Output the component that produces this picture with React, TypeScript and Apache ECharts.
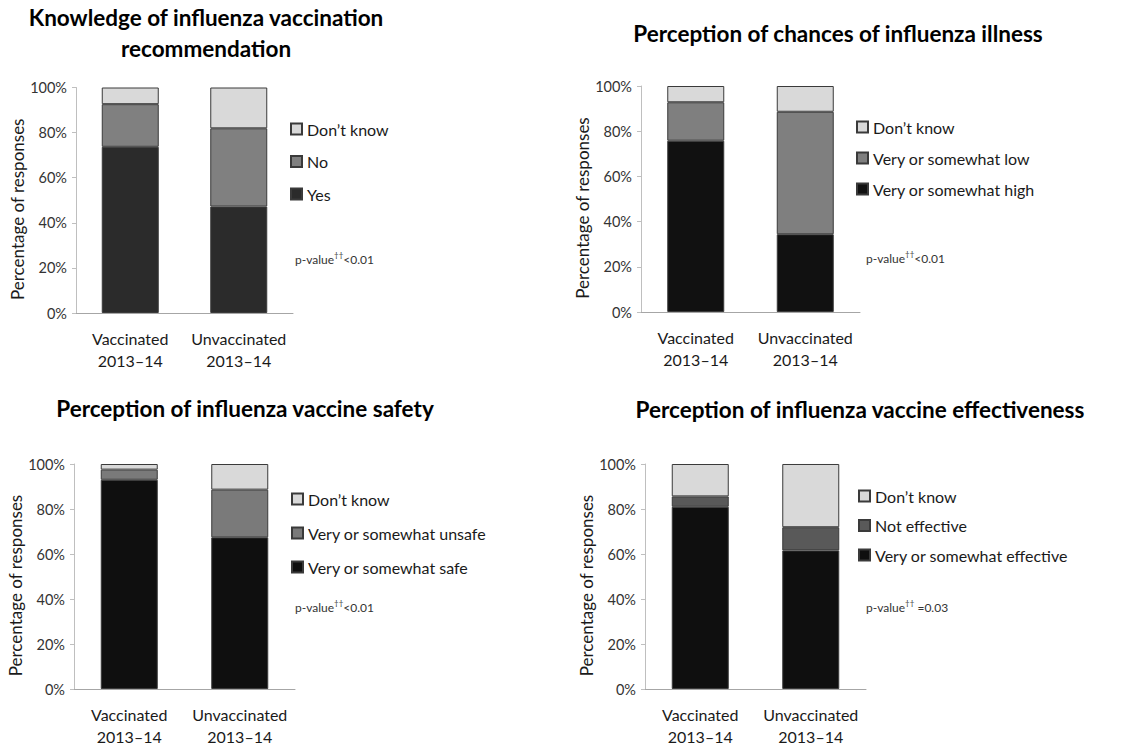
import React, { useEffect, useRef } from "react";
import * as echarts from "echarts";

const categories = ["Vaccinated\n2013–14", "Unvaccinated\n2013–14"];
const yTicks = [0, 20, 40, 60, 80, 100];

// Panel 1: Knowledge of recommendation
const knowYes = [73.7, 47.2];
const knowNo = [18.9, 34.7];
const knowDK = [7.4, 18.1];
// Panel 2: Perception of chances of illness
const illHigh = [75.8, 34.4];
const illLow = [17.0, 54.2];
const illDK = [7.2, 11.4];
// Panel 3: Vaccine safety
const safeSafe = [93.0, 67.4];
const safeUnsafe = [4.5, 21.2];
const safeDK = [2.5, 11.4];
// Panel 4: Vaccine effectiveness
const effEff = [81.0, 61.6];
const effNot = [4.6, 10.3];
const effDK = [14.4, 28.1];

const titles = [
  "Knowledge of influenza vaccination\nrecommendation",
  "Perception of chances of influenza illness",
  "Perception of influenza vaccine safety",
  "Perception of influenza vaccine effectiveness",
];
const pValues = ["<0.01", "<0.01", "<0.01", " =0.03"];

const FONT = "Lato, 'Open Sans', sans-serif";

export default function App() {
  const ref = useRef<HTMLDivElement>(null);
  useEffect(() => {
    if (!ref.current) return;
    const chart = echarts.init(ref.current, null, { renderer: "svg" });

    const grids = [
      { left: 76, top: 87.5, width: 217, height: 225.5 },
      { left: 641, top: 86, width: 219, height: 226 },
      { left: 74, top: 464, width: 221, height: 225 },
      { left: 645, top: 464, width: 221, height: 225 },
    ];

    const panels = [
      {
        series: [
          { name: "Yes", data: knowYes, color: "#2b2b2b" },
          { name: "No", data: knowNo, color: "#808080" },
          { name: "Don’t know", data: knowDK, color: "#d9d9d9" },
        ],
        legend: { left: 290, top: 121, itemGap: 16.5 },
        title: { x: 206, y: 32.5 },
        p: { x: 295, y: 258 },
      },
      {
        series: [
          { name: "Very or somewhat high", data: illHigh, color: "#111111" },
          { name: "Very or somewhat low", data: illLow, color: "#7f7f7f" },
          { name: "Don’t know", data: illDK, color: "#d9d9d9" },
        ],
        legend: { left: 856, top: 119, itemGap: 15 },
        title: { x: 838, y: 33 },
        p: { x: 866, y: 257 },
      },
      {
        series: [
          { name: "Very or somewhat safe", data: safeSafe, color: "#0f0f0f" },
          { name: "Very or somewhat unsafe", data: safeUnsafe, color: "#7a7a7a" },
          { name: "Don’t know", data: safeDK, color: "#d9d9d9" },
        ],
        legend: { left: 291, top: 491, itemGap: 18 },
        title: { x: 245, y: 408 },
        p: { x: 295, y: 606 },
      },
      {
        series: [
          { name: "Very or somewhat effective", data: effEff, color: "#0f0f0f" },
          { name: "Not effective", data: effNot, color: "#595959" },
          { name: "Don’t know", data: effDK, color: "#d9d9d9" },
        ],
        legend: { left: 858, top: 488, itemGap: 13.5 },
        title: { x: 860, y: 409 },
        p: { x: 866, y: 606 },
      },
    ];

    const xAxis = grids.map((_, i) => ({
      type: "category",
      gridIndex: i,
      data: categories,
      axisLine: { lineStyle: { color: "#a6a6a6", width: 1 } },
      axisTick: { show: false },
      axisLabel: {
        color: "#1a1a1a",
        fontSize: 16,
        lineHeight: 22,
        margin: 14,
        fontFamily: FONT,
        interval: 0,
      },
    }));

    const yAxis = grids.map((_, i) => ({
      type: "value",
      gridIndex: i,
      min: yTicks[0],
      max: yTicks[yTicks.length - 1],
      interval: 20,
      name: "Percentage of responses",
      nameLocation: "middle",
      nameGap: 49,
      nameRotate: 90,
      nameTextStyle: {
        color: "#1a1a1a",
        fontSize: 17,
        fontFamily: FONT,
        padding: [0, 18, 0, 0],
      },
      axisLine: { show: true, lineStyle: { color: "#bfbfbf", width: 1 } },
      axisTick: { show: true, length: 4, lineStyle: { color: "#bfbfbf" } },
      splitLine: { show: false },
      axisLabel: {
        formatter: "{value}%",
        color: "#333333",
        fontSize: 14.5,
        margin: 9,
        fontFamily: FONT,
      },
    }));

    const series: any[] = [];
    panels.forEach((p, i) => {
      p.series.forEach((s) => {
        series.push({
          type: "bar",
          name: s.name,
          xAxisIndex: i,
          yAxisIndex: i,
          stack: "p" + i,
          barWidth: 57,
          data: s.data,
          itemStyle: { color: s.color, borderColor: "#3a3a3a", borderWidth: 1 },
        });
      });
    });

    const legend = panels.map((p) => ({
      orient: "vertical",
      left: p.legend.left,
      top: p.legend.top,
      itemGap: p.legend.itemGap,
      itemWidth: 11,
      itemHeight: 11,
      icon: "rect",
      padding: 0,
      data: p.series.map((s) => s.name).reverse(),
      textStyle: { color: "#1a1a1a", fontSize: 16, lineHeight: 16, fontFamily: FONT },
      selectedMode: false,
    }));

    const graphic: any[] = [];
    panels.forEach((p, i) => {
      graphic.push({
        type: "text",
        x: p.title.x,
        y: p.title.y,
        style: {
          text: titles[i],
          fill: "#000000",
          font: `bold 22.5px ${FONT}`,
          align: "center",
          verticalAlign: "middle",
          lineHeight: 31,
        },
      });
      graphic.push({
        type: "text",
        x: p.p.x,
        y: p.p.y,
        style: {
          text: `{a|p-value}{s|††}{a|${pValues[i]}}`,
          align: "left",
          verticalAlign: "middle",
          rich: {
            a: { fontSize: 12, fill: "#333333", fontFamily: FONT, lineHeight: 15, verticalAlign: "bottom" },
            s: { fontSize: 8, fill: "#333333", fontFamily: FONT, lineHeight: 15, verticalAlign: "top" },
          },
        },
      });
    });

    chart.setOption({
      animation: false,
      backgroundColor: "#ffffff",
      grid: grids,
      xAxis,
      yAxis,
      series,
      legend,
      graphic,
    });
    return () => chart.dispose();
  }, []);
  return (
    <div
      ref={ref}
      style={{ position: "fixed", left: 0, top: 0, width: 1146, height: 752 }}
    />
  );
}
